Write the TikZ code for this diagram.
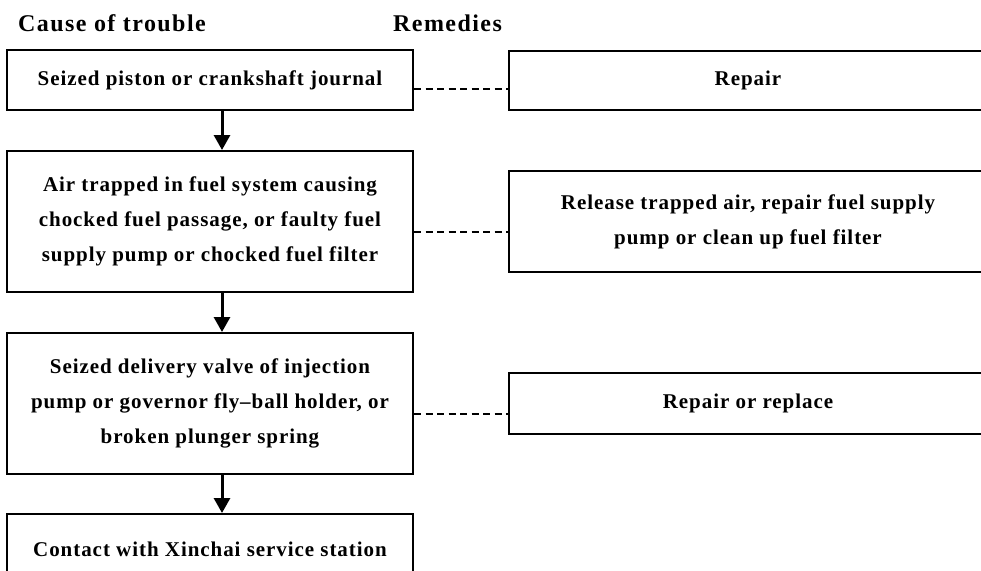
\documentclass[tikz,border=0pt]{standalone}
\usepackage{fontspec}
\setmainfont{Liberation Serif}
\newfontfamily\boxfont[LetterSpace=4.5]{Liberation Serif}
\newfontfamily\headfont[LetterSpace=6]{Liberation Serif}
\usepackage{tikz}
\usetikzlibrary{positioning,arrows.meta,calc}

\begin{document}
\begin{tikzpicture}[x=1pt,y=-1pt,
   cbox/.style={draw,line width=2pt,minimum width=406pt,align=center,inner sep=0pt,
     font=\boxfont\fontsize{21}{35}\selectfont\bfseries},
   rbox/.style={draw,line width=2pt,minimum width=478pt,align=center,inner sep=0pt,
     font=\boxfont\fontsize{21}{35}\selectfont\bfseries},
   head/.style={anchor=base west,inner sep=0pt,font=\headfont\fontsize{24}{26}\selectfont\bfseries},
   flow/.style={line width=3pt,-{Triangle[width=16pt,length=15pt]}},
   link/.style={line width=2pt,dash pattern=on 7pt off 4.5pt}]
 \clip (0,0) rectangle (981,570);
 % headings
 \node[head] (hcause) at (18,31) {Cause of trouble};
 \node[head] (hrem) at (393,31) {Remedies};
 % causes (left column)
 \node[cbox,minimum height=60pt] (c1) at (210,80) {Seized piston or crankshaft journal};
 \node[cbox,minimum height=141pt] (c2) at (210,221.5)
   {Air trapped in fuel system causing\\chocked fuel passage, or faulty fuel\\supply pump or chocked fuel filter};
 \node[cbox,minimum height=141pt] (c3) at (210,403.5)
   {Seized delivery valve of injection\\pump or governor fly\textendash ball holder, or\\broken plunger spring};
 \node[cbox,minimum height=70pt] (c4) at (210,549) {Contact with Xinchai service station};
 % remedies (right column)
 \node[rbox,minimum height=59pt] (r1) at (748,80.5) {Repair};
 \node[rbox,minimum height=101pt] (r2) at (748,221.5)
   {Release trapped air, repair fuel supply\\pump or clean up fuel filter};
 \node[rbox,minimum height=61pt] (r3) at (748,403.5) {Repair or replace};
 % flow arrows
 \foreach \a/\b in {c1/c2,c2/c3,c3/c4}
   \draw[flow] ([xshift=12pt]\a.south) -- ([xshift=12pt]\b.north);
 % dashed links
 \draw[link,line width=2.6pt] ([yshift=-9pt]c1.east) -- ([yshift=-9pt]c1.east -| r1.west);
 \draw[link] ([yshift=-10.5pt]c2.east) -- ([yshift=-10.5pt]c2.east -| r2.west);
 \draw[link] ([yshift=-10.5pt]c3.east) -- ([yshift=-10.5pt]c3.east -| r3.west);
\end{tikzpicture}
\end{document}
